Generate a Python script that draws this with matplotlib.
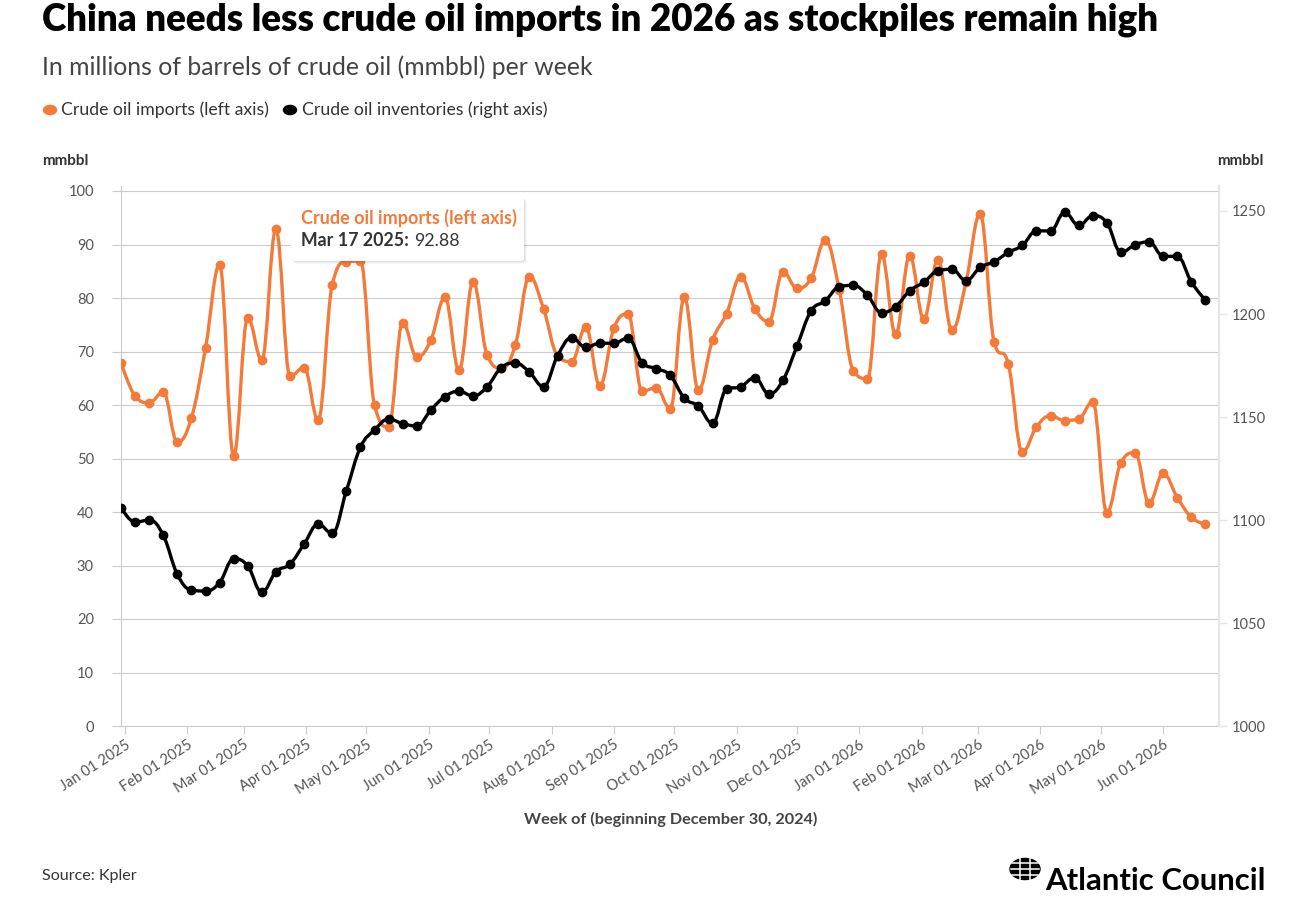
import matplotlib.pyplot as plt
import matplotlib.dates as mdates
import numpy as np
from matplotlib.path import Path
from matplotlib.patches import PathPatch, FancyBboxPatch, Polygon, Circle

plt.rcParams['font.family'] = ['Lato', 'DejaVu Sans']

# Weekly data, weeks beginning Dec 30 2024
weeks = np.arange(np.datetime64('2024-12-30'), np.datetime64('2026-06-23'), np.timedelta64(7, 'D'))

imports = [67.9, 61.7, 60.4, 62.4, 53.1, 57.6, 70.6, 86.2, 50.5, 76.3,
           68.4, 92.88, 65.4, 67.0, 57.2, 82.5, 86.8, 86.9, 60.0, 55.9,
           75.4, 69.0, 72.1, 80.1, 66.5, 83.0, 69.3, 66.9, 71.2, 84.0,
           78.0, 69.2, 68.1, 74.6, 63.6, 74.4, 77.0, 62.6, 63.2, 59.3,
           80.1, 62.8, 72.1, 77.1, 84.0, 78.0, 75.6, 84.9, 81.8, 83.7,
           90.8, 81.5, 66.4, 64.9, 88.2, 73.2, 87.9, 76.1, 87.1, 74.0,
           83.0, 95.7, 71.7, 67.7, 51.2, 55.9, 58.0, 57.1, 57.4, 60.6,
           39.9, 49.2, 51.1, 41.7, 47.2, 42.7, 39.0, 37.7]

inventories = [1106.0, 1098.9, 1100.0, 1092.6, 1073.6, 1066.0, 1065.5, 1069.6, 1081.2, 1077.7,
               1064.9, 1074.9, 1078.6, 1088.3, 1098.0, 1093.5, 1114.1, 1135.3, 1143.7, 1149.0,
               1146.8, 1145.6, 1153.4, 1159.9, 1162.5, 1160.2, 1164.7, 1174.0, 1176.2, 1171.8,
               1164.7, 1179.8, 1188.5, 1183.8, 1185.8, 1185.8, 1188.3, 1176.4, 1173.5, 1170.2,
               1159.1, 1155.3, 1146.9, 1163.6, 1164.7, 1169.1, 1161.2, 1167.8, 1184.5, 1201.5,
               1206.3, 1213.3, 1213.9, 1209.1, 1200.6, 1203.6, 1211.3, 1215.4, 1221.0, 1221.7,
               1216.2, 1222.6, 1225.4, 1229.9, 1233.3, 1240.4, 1240.3, 1249.4, 1243.0, 1247.7,
               1244.3, 1229.9, 1233.6, 1235.0, 1228.0, 1228.0, 1215.5, 1206.6]

left_ticks = list(range(0, 101, 10))
right_ticks = [1000, 1050, 1100, 1150, 1200, 1250]
month_ticks = np.arange(np.datetime64('2025-01'), np.datetime64('2026-07'), np.timedelta64(1, 'M')).astype('datetime64[D]')

ORANGE = '#f47a3a'
GRID = '#cccccc'
W, H = 1296, 910


def spline_path(x, y, smoothing=1.5):
    # Highcharts-style spline: cubic bezier through every point
    n = len(x)
    lc = [(x[i], y[i]) for i in range(n)]
    rc = [(x[i], y[i]) for i in range(n)]
    d = smoothing + 1
    for i in range(1, n - 1):
        px_, py_ = x[i], y[i]
        lx, ly = x[i - 1], y[i - 1]
        nx, ny = x[i + 1], y[i + 1]
        lcx = (smoothing * px_ + lx) / d
        lcy = (smoothing * py_ + ly) / d
        rcx = (smoothing * px_ + nx) / d
        rcy = (smoothing * py_ + ny) / d
        if rcx != lcx:
            corr = ((rcy - lcy) * (rcx - px_)) / (rcx - lcx) + py_ - rcy
            lcy += corr
            rcy += corr
        if lcy > ly and lcy > py_:
            lcy = max(ly, py_); rcy = 2 * py_ - lcy
        elif lcy < ly and lcy < py_:
            lcy = min(ly, py_); rcy = 2 * py_ - lcy
        if rcy > ny and rcy > py_:
            rcy = max(ny, py_); lcy = 2 * py_ - rcy
        elif rcy < ny and rcy < py_:
            rcy = min(ny, py_); lcy = 2 * py_ - rcy
        lc[i] = (lcx, lcy)
        rc[i] = (rcx, rcy)
    verts = [(x[0], y[0])]
    codes = [Path.MOVETO]
    for i in range(1, n):
        verts += [rc[i - 1], lc[i], (x[i], y[i])]
        codes += [Path.CURVE4] * 3
    return Path(verts, codes)


def fx(x):
    return x / W


def fy(y):
    return 1 - y / H


fig = plt.figure(figsize=(W / 100, H / 100), dpi=100)
ax = fig.add_axes([fx(121), fy(726), (1219 - 121) / W, (726 - 186) / H])
ax2 = ax.twinx()

xnum = mdates.date2num(weeks)
x0 = mdates.date2num(np.datetime64('2024-12-30'))
ax.set_xlim(x0, x0 + (1219 - 121) / 2.012)
ax.set_ylim(0, 540 / 5.35)
ax2.set_ylim(1000, 1000 + 540 / 2.06)

# imports, left axis
ax.add_patch(PathPatch(spline_path(xnum, imports), fill=False, edgecolor=ORANGE, lw=2.4,
                       capstyle='round', joinstyle='round', zorder=3))
ax.plot(xnum, imports, 'o', color=ORANGE, ms=6, zorder=4)

# inventories, right axis
ax2.add_patch(PathPatch(spline_path(xnum, inventories), fill=False, edgecolor='black', lw=2.4,
                        capstyle='round', joinstyle='round', zorder=3))
ax2.plot(xnum, inventories, 'o', color='black', ms=6, zorder=4)

# axes styling
ax.set_yticks(left_ticks)
ax.grid(axis='y', color=GRID, lw=0.8)
ax.set_axisbelow(True)
ax.tick_params(axis='y', length=6.5, color=GRID, width=0.8, pad=13, labelsize=10.5, labelcolor='#555555')
for s in ['top', 'right']:
    ax.spines[s].set_visible(False)
ax.spines['left'].set_color(GRID)
ax.spines['left'].set_linewidth(0.8)
ax.spines['bottom'].set_color(GRID)
ax.spines['bottom'].set_linewidth(0.8)

ax.set_xticks(mdates.date2num(month_ticks))
ax.set_xticklabels([mdates.num2date(mdates.date2num(m)).strftime('%b %d %Y') for m in month_ticks])
ax.tick_params(axis='x', length=5.5, color=GRID, width=0.8, pad=3, labelsize=10.5, labelcolor='#555555')
for lab in ax.get_xticklabels():
    lab.set_rotation(33)
    lab.set_ha('right')
    lab.set_va('top')
    lab.set_rotation_mode('anchor')

ax2.set_yticks(right_ticks)
ax2.tick_params(axis='y', length=5.5, color='#e6e6e6', width=1, pad=4, labelsize=10.5, labelcolor='#555555')
for s in ['top', 'left', 'bottom']:
    ax2.spines[s].set_visible(False)
ax2.spines['right'].set_color('#e6e6e6')
ax2.spines['right'].set_linewidth(1.6)

# titles and notes
fig.text(fx(42), fy(20), 'China needs less crude oil imports in 2026 as stockpiles remain high',
         fontsize=26.5, fontweight='heavy', color='black', va='center', ha='left')
fig.text(fx(42), fy(67), 'In millions of barrels of crude oil (mmbbl) per week',
         fontsize=17.8, color='#444444', va='center', ha='left')

# legend
fig.patches.append(Circle((fx(50), fy(110)), 6.5 / W, transform=fig.transFigure, color=ORANGE))
fig.text(fx(61), fy(110), 'Crude oil imports (left axis)', fontsize=12.7, color='#333333', va='center')
fig.patches.append(Circle((fx(290), fy(110)), 6.5 / W, transform=fig.transFigure, color='black'))
fig.text(fx(302), fy(110), 'Crude oil inventories (right axis)', fontsize=12.7, color='#333333', va='center')

fig.text(fx(42), fy(161), 'mmbbl', fontsize=11, fontweight='bold', color='#333333', va='center')
fig.text(fx(1264), fy(161), 'mmbbl', fontsize=11, fontweight='bold', color='#333333', va='center', ha='right')
fig.text(fx(671), fy(819), 'Week of (beginning December 30, 2024)', fontsize=11.7, fontweight='bold',
         color='#444444', va='center', ha='center')
fig.text(fx(42), fy(876), 'Source: Kpler', fontsize=11.6, color='#333333', va='center')

# tooltip for the hovered point
for k, a in enumerate([0.05, 0.04, 0.03]):
    off = k + 1
    fig.patches.append(FancyBboxPatch((fx(291 + off), fy(261 + off)), (524 - 291) / W, (261 - 197) / H,
                                      boxstyle='round,pad=0,rounding_size=0.003', transform=fig.transFigure,
                                      facecolor='black', edgecolor='none', alpha=a, zorder=10))
fig.patches.append(FancyBboxPatch((fx(291), fy(261)), (524 - 291) / W, (261 - 197) / H,
                                  boxstyle='round,pad=0,rounding_size=0.003', transform=fig.transFigure,
                                  facecolor='white', edgecolor='none', zorder=11))
fig.patches.append(Polygon([(fx(291.5), fy(217)), (fx(282), fy(228)), (fx(291.5), fy(239))],
                           closed=True, transform=fig.transFigure, facecolor='white', edgecolor='none', zorder=11))
fig.text(fx(301), fy(218), 'Crude oil imports (left axis)', fontsize=13, fontweight='bold',
         color=ORANGE, va='center', zorder=12)
t = fig.text(fx(301), fy(241), 'Mar 17 2025:', fontsize=12.8, fontweight='bold', color='#333333', va='center', zorder=12)
fig.canvas.draw()
bb = t.get_window_extent()
fig.text(bb.x1 / W + 5 / W, fy(241), '92.88', fontsize=12.8, color='#333333', va='center', zorder=12)

# Atlantic Council logo
gx, gy, r = 1025, 869, 15
fig.patches.append(Circle((fx(gx), fy(gy)), r / W, transform=fig.transFigure, color='black', zorder=5))
for dy in [-6, 0, 6]:
    half = np.sqrt(r ** 2 - dy ** 2) - 1
    fig.lines.append(plt.Line2D([fx(gx - half), fx(gx + half)], [fy(gy + dy), fy(gy + dy)],
                                transform=fig.transFigure, color='white', lw=1.1, zorder=6))
for dx in [-5, 5]:
    half = np.sqrt(r ** 2 - dx ** 2) - 1
    fig.lines.append(plt.Line2D([fx(gx + dx), fx(gx + dx)], [fy(gy - half), fy(gy + half)],
                                transform=fig.transFigure, color='white', lw=1.1, zorder=6))
fig.text(fx(1045), fy(881), 'Atlantic Council', fontsize=22.4, fontweight='bold', color='black',
         va='center', ha='left')

fig.savefig('out.png', dpi=100)
